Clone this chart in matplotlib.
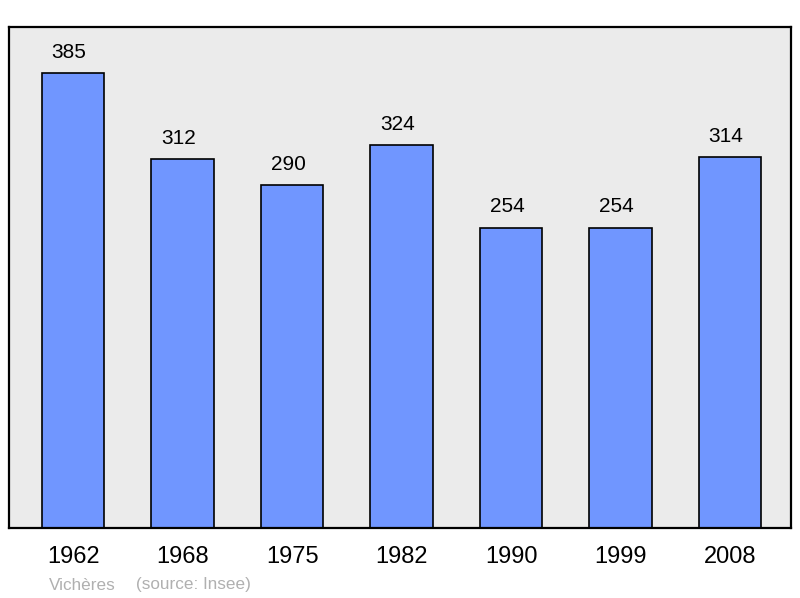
import matplotlib
matplotlib.use("Agg")
import matplotlib.pyplot as plt

years = ["1962", "1968", "1975", "1982", "1990", "1999", "2008"]
population = [385, 312, 290, 324, 254, 254, 314]
commune = "Vichères"
source = "(source: Insee)"

plt.rcParams['font.family'] = ['Liberation Sans', 'DejaVu Sans']

fig = plt.figure(figsize=(8, 5.98), dpi=100)
ax = fig.add_axes([0.01125, 0.117, 0.9775, 0.838])
ax.set_facecolor('#ebebeb')

pos = list(range(len(years)))
ax.bar(pos, population, width=0.57, color='#7096ff', edgecolor='black', linewidth=1.2, zorder=2)
for i, v in enumerate(population):
    ax.annotate(str(v), (i, v), xytext=(-3, 15), textcoords='offset points',
                ha='center', va='center', fontsize=15)

ax.set_xlim(-0.585, 6.555)
ax.set_ylim(0, 424)
ax.set_xticks(pos)
ax.set_xticklabels(years, fontsize=17)
ax.tick_params(axis='x', length=0, pad=13)
ax.set_yticks([])
for s in ax.spines.values():
    s.set_linewidth(1.6)

fig.text(49 / 800, 1 - 585 / 598, commune, color='#b0b0b0', fontsize=12.3, va='center')
fig.text(136 / 800, 1 - 585 / 598, source, color='#b0b0b0', fontsize=12.3, va='center')

fig.savefig('out.png', dpi=100)
